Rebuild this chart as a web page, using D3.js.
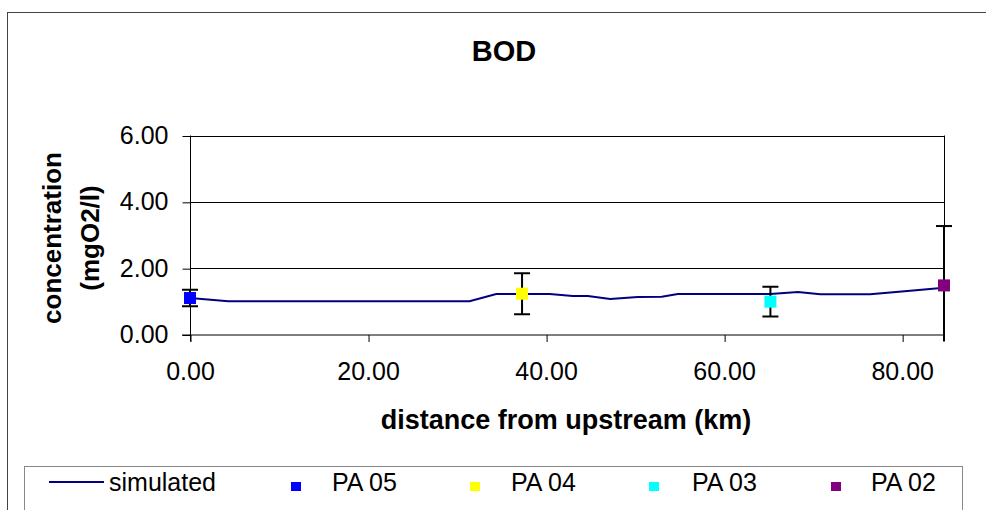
<!DOCTYPE html>
<html>
<head>
<meta charset="utf-8">
<script src="https://cdn.jsdelivr.net/npm/d3@7"></script>
<style>
  html, body { margin: 0; padding: 0; background: #fff; }
  svg { display: block; font-family: "Liberation Sans", Arial, sans-serif; }
</style>
</head>
<body>
<svg id="chart" width="986" height="510"></svg>
<script>
// ---- data ----
const simDistance = [0, 4.3, 7.4, 10.4, 13.5, 16.5, 19.4, 22.5, 25.5, 28.3, 31.4, 34.4, 37.3, 40.4, 43.0, 44.7, 47.2, 50.3, 53.0, 54.8, 57.3, 59.9, 62.4, 65.2, 68.3, 70.8, 73.4, 76.4, 80.6, 84.7];
const simBOD      = [1.10, 1.00, 1.00, 1.00, 1.00, 1.00, 1.00, 1.00, 1.00, 1.00, 1.00, 1.22, 1.22, 1.22, 1.16, 1.16, 1.07, 1.13, 1.14, 1.22, 1.22, 1.22, 1.22, 1.22, 1.28, 1.21, 1.21, 1.21, 1.31, 1.41];
const stationNames    = ["PA 05", "PA 04", "PA 03", "PA 02"];
const stationDistance = [0, 37.3, 65.2, 84.7];
const stationBOD      = [1.10, 1.23, 0.99, 1.48];
const stationError    = [0.25, 0.62, 0.45, 1.79];
const stationColors   = ["#0000FF", "#FFFF00", "#00FFFF", "#800080"];
const xTicks = [0, 20, 40, 60, 80];
const yTicks = [0, 2, 4, 6];

// ---- layout ----
const svg = d3.select("#chart");
const plot = { left: 190, right: 944, top: 135.5, bottom: 334.5 };
const x = d3.scaleLinear().domain([0, 84.7]).range([plot.left, plot.right]);
const y = d3.scaleLinear().domain([0, 6]).range([plot.bottom, plot.top]);

// outer frame
svg.append("rect").attr("x", 7.5).attr("y", 12.5).attr("width", 1000).attr("height", 600)
  .attr("fill", "none").attr("stroke", "#444").attr("stroke-width", 1);

// title
svg.append("text").attr("x", 504).attr("y", 61).attr("text-anchor", "middle")
  .attr("font-size", 29).attr("font-weight", "bold").text("BOD");

// gridlines
svg.append("g").selectAll("line").data(yTicks.filter(d => d > 0)).join("line")
  .attr("x1", plot.left).attr("x2", plot.right)
  .attr("y1", d => Math.round(y(d)) + 0.5).attr("y2", d => Math.round(y(d)) + 0.5)
  .attr("stroke", "#000").attr("stroke-width", 1);

// right border of plot area
svg.append("line").attr("x1", plot.right + 0.5).attr("x2", plot.right + 0.5)
  .attr("y1", plot.top).attr("y2", plot.bottom).attr("stroke", "#000").attr("stroke-width", 1);

// y axis
const yAxis = d3.axisLeft(y).tickValues(yTicks).tickSize(8).tickPadding(14).tickFormat(d3.format(".2f"));
const gy = svg.append("g").attr("transform", `translate(${plot.left + 0.5},0)`).call(yAxis);
gy.select(".domain").attr("d", `M0,${plot.top}V${plot.bottom + 7}`).attr("stroke", "#000");
gy.selectAll(".tick line").attr("stroke", "#000").attr("transform", "translate(0,0.5)");
gy.selectAll(".tick text").attr("font-size", 25).attr("fill", "#000").attr("font-family", "Liberation Sans, Arial, sans-serif");

// x axis
const xAxis = d3.axisBottom(x).tickValues(xTicks).tickSize(7).tickPadding(20).tickFormat(d3.format(".2f"));
const gx = svg.append("g").attr("transform", `translate(0,${plot.bottom + 0.5})`).call(xAxis);
gx.select(".domain").attr("d", `M${plot.left - 8},0H${plot.right}`).attr("stroke", "#000");
gx.selectAll(".tick line").attr("stroke", "#000").attr("transform", "translate(0.5,0)");
gx.selectAll(".tick text").attr("font-size", 25).attr("fill", "#000").attr("font-family", "Liberation Sans, Arial, sans-serif");

// axis titles
svg.append("text").attr("x", 566).attr("y", 429).attr("text-anchor", "middle")
  .attr("font-size", 27).attr("font-weight", "bold").text("distance from upstream (km)");
const yt = svg.append("text").attr("transform", "translate(0,238) rotate(-90)")
  .attr("text-anchor", "middle").attr("font-size", 26).attr("font-weight", "bold");
yt.append("tspan").attr("x", 0).attr("y", 61).text("concentration");
yt.append("tspan").attr("x", 0).attr("y", 99).text("(mgO2/l)");

// simulated line
const line = d3.line().x((d, i) => x(simDistance[i])).y(d => y(d));
svg.append("path").datum(simBOD).attr("d", line)
  .attr("fill", "none").attr("stroke", "#000080").attr("stroke-width", 2);

// error bars (clipped just below the axis)
svg.append("clipPath").attr("id", "ebclip").append("rect")
  .attr("x", 0).attr("y", 0).attr("width", 986).attr("height", plot.bottom + 7);
const eb = svg.append("g").attr("clip-path", "url(#ebclip)");
stationNames.forEach((n, i) => {
  const cx = x(stationDistance[i]);
  const hi = y(stationBOD[i] + stationError[i]);
  const lo = y(stationBOD[i] - stationError[i]);
  eb.append("line").attr("x1", cx).attr("x2", cx).attr("y1", hi).attr("y2", lo)
    .attr("stroke", "#000").attr("stroke-width", 2);
  eb.append("line").attr("x1", cx - 8).attr("x2", cx + 8).attr("y1", hi).attr("y2", hi)
    .attr("stroke", "#000").attr("stroke-width", 2);
  eb.append("line").attr("x1", cx - 8).attr("x2", cx + 8).attr("y1", lo).attr("y2", lo)
    .attr("stroke", "#000").attr("stroke-width", 2);
});

// observed markers
svg.append("g").selectAll("rect").data(stationBOD).join("rect")
  .attr("x", (d, i) => x(stationDistance[i]) - 6).attr("y", d => y(d) - 6)
  .attr("width", 12).attr("height", 12)
  .attr("fill", (d, i) => stationColors[i]);

// legend
svg.append("rect").attr("x", 24.5).attr("y", 466.5).attr("width", 938).attr("height", 60)
  .attr("fill", "#fff").attr("stroke", "#888").attr("stroke-width", 1);
const lg = svg.append("g");
lg.append("line").attr("x1", 49).attr("x2", 104).attr("y1", 482).attr("y2", 482)
  .attr("stroke", "#000080").attr("stroke-width", 2);
lg.append("text").attr("x", 109).attr("y", 491).attr("font-size", 25).text("simulated");
const legendSqX = [291, 470, 649, 831];
const legendTxX = [332, 511, 692, 871];
stationNames.forEach((n, i) => {
  lg.append("rect").attr("x", legendSqX[i]).attr("y", 482).attr("width", 10).attr("height", 9)
    .attr("fill", stationColors[i]);
  lg.append("text").attr("x", legendTxX[i]).attr("y", 491).attr("font-size", 25).text(n);
});
</script>
</body>
</html>
